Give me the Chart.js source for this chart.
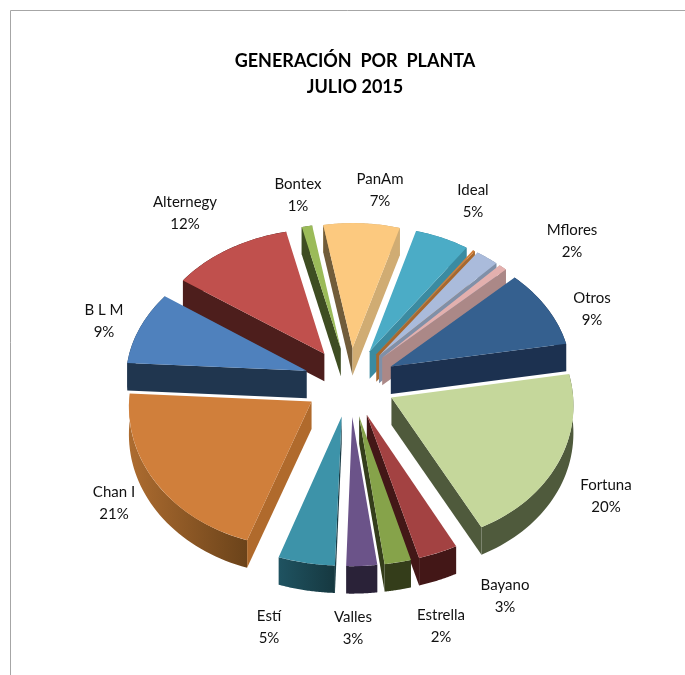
<!DOCTYPE html>
<html>
<head>
<meta charset="utf-8">
<style>html,body{margin:0;padding:0;background:#fff}canvas{display:block}</style>
<script src="https://cdn.jsdelivr.net/npm/chart.js@4"></script>
</head>
<body>
<div style="width:685px;height:675px"><canvas id="c" width="685" height="675"></canvas></div>
<script>
const titleLines = ['GENERACIÓN  POR  PLANTA', 'JULIO 2015'];
const plants = ['Otros','Fortuna','Bayano','Estrella','Valles','Estí','Chan I','B L M','Alternegy','Bontex','PanAm','Ideal','','Mflores',''];
const shares = [9.4,20.3,3.3,2.2,2.55,4.7,20.8,8.8,11.6,1,7.3,5.2,0.2,2.2,0.8];
const fills = ['#35608f','#c5d79b','#a34242','#86a34a','#6b5389','#3d93a9','#d07f3b','#4f81bd','#c0504d','#9bbb59','#fcc97f','#4bacc6','#d07f3b','#aabbdb','#e3b0ae'];
const startWalls = ['#1c3150','#4f5a3c','#431717','#343d1a','#2a2238','#1b3d47','#b06a2c','#20364f','#4d1e1c','#3e4d22','#715c3a','#3b8ba1','#a8682d','#8090a8','#ab8887'];
const endWalls = ['#1c3150','#4f5a3c','#431717','#343d1a','#2a2238','#1b3d47','#b06a2c','#20364f','#4d1e1c','#3e4d22','#d0ac73','#3b8ba1','#a8682d','#8090a8','#ab8887'];
const rimA = ['#1c3150','#4f5a3c','#431717','#343d1a','#2a2238','#163840','#6b431a','#20364f','#4d1e1c','#3e4d22','#d0ac73','#3b8ba1','#a8682d','#8090a8','#ab8887'];
const rimB = ['#1c3150','#4f5a3c','#431717','#343d1a','#2a2238','#1f5361','#ad6c30','#20364f','#4d1e1c','#3e4d22','#d0ac73','#3b8ba1','#a8682d','#8090a8','#ab8887'];
const labelX = [592,606,505,441,353,269,114,104,185,298,380,473,0,572,0];
const labelY = [298,485,585,615,617,616,492,310,202,184,179,190,0,230,0];

const EXPLODE = 46, DEPTH = 27.5, CX = 350, CY = 382, TILT = 0.75, PERSP = 0.000326;
const project = (X, Y) => { const w = 1 - PERSP * Y; return [CX + X / w, CY + TILT * Y / w]; };

const pie3d = {
  id: 'pie3d',
  beforeDraw(chart) {
    const c = chart.ctx;
    c.save();
    c.fillStyle = '#fff';
    c.fillRect(0, 0, chart.width, chart.height);
    c.strokeStyle = '#a6a6a6';
    c.lineWidth = 1;
    c.beginPath();
    c.moveTo(10.5, chart.height);
    c.lineTo(10.5, 10.5);
    c.lineTo(chart.width, 10.5);
    c.stroke();
    c.restore();
  },
  beforeDatasetDraw(chart, args) {
    const c = chart.ctx;
    const arcs = chart.getDatasetMeta(args.index).data.map((a, i) => ({a, i}));
    const mid = o => (o.a.startAngle + o.a.endAngle) / 2;
    arcs.sort((p, q) => Math.sin(mid(p)) - Math.sin(mid(q)));
    arcs.forEach(o => {
      const {a, i} = o, m = mid(o);
      const R = a.outerRadius, s = a.startAngle, e = a.endAngle;
      const ex = Math.cos(m) * EXPLODE, ey = Math.sin(m) * EXPLODE;
      const A = project(ex, ey);
      const corner = t => {
        const p = project(ex + R * Math.cos(t), ey + R * Math.sin(t));
        return [p[0] - A[0], p[1] - A[1]];
      };
      const U = corner(s), V = corner(e);
      const ux = R * Math.cos(s), uy = R * Math.sin(s), vx = R * Math.cos(e), vy = R * Math.sin(e);
      const det = ux * vy - vx * uy;
      const m11 = (U[0] * vy - V[0] * uy) / det, m12 = (V[0] * ux - U[0] * vx) / det;
      const m21 = (U[1] * vy - V[1] * uy) / det, m22 = (V[1] * ux - U[1] * vx) / det;
      const pt = (t, r, d) => {
        const x = r * Math.cos(t), y = r * Math.sin(t);
        return [A[0] + m11 * x + m12 * y, A[1] + m21 * x + m22 * y + d];
      };
      const poly = (pts, fill) => {
        c.beginPath();
        pts.forEach((p, k) => k ? c.lineTo(p[0], p[1]) : c.moveTo(p[0], p[1]));
        c.closePath();
        c.fillStyle = fill;
        c.fill();
      };
      // rim
      const top = [], bot = [];
      for (let k = 0; k <= 40; k++) {
        const t = s + (e - s) * k / 40;
        top.push(pt(t, R, 0));
        bot.unshift(pt(t, R, DEPTH));
      }
      const xs = top.map(p => p[0]);
      const g = c.createLinearGradient(Math.min(...xs), 0, Math.max(...xs) + 0.01, 0);
      g.addColorStop(0, rimB[i]);
      g.addColorStop(1, rimA[i]);
      poly(top.concat(bot), g);
      // cut faces
      const wall = (t, fill) => poly([pt(t, 0, 0), pt(t, R, 0), pt(t, R, DEPTH), pt(t, 0, DEPTH)], fill);
      if (U[0] < 0) wall(s, startWalls[i]);
      if (V[0] > 0) wall(e, endWalls[i]);
      // top surface through the library's arc element
      c.save();
      c.transform(m11, m21, m12, m22, A[0], A[1]);
      c.translate(-a.x, -a.y);
      a.draw(c);
      c.restore();
    });
    return false;
  },
  afterDraw(chart) {
    const c = chart.ctx;
    c.save();
    c.fillStyle = '#111';
    c.font = '15px Lato';
    c.textAlign = 'center';
    c.textBaseline = 'middle';
    plants.forEach((n, i) => {
      if (!n) return;
      c.fillText(n, labelX[i], labelY[i]);
      c.fillText(Math.round(shares[i]) + '%', labelX[i], labelY[i] + 22);
    });
    c.restore();
  }
};

new Chart(document.getElementById('c'), {
  type: 'pie',
  data: {
    labels: plants,
    datasets: [{ data: shares, backgroundColor: fills, borderWidth: 0, hoverOffset: 0 }]
  },
  options: {
    responsive: false,
    animation: false,
    rotation: 46.4,
    layout: { padding: { left: 25, right: 0, top: 0, bottom: 212 } },
    plugins: {
      legend: { display: false },
      tooltip: { enabled: false },
      title: {
        display: true,
        text: titleLines,
        color: '#000',
        font: { family: 'Lato', size: 18, weight: 'bold', lineHeight: 1.45 },
        padding: { top: 48, bottom: 0 }
      }
    }
  },
  plugins: [pie3d]
});
</script>
</body>
</html>
